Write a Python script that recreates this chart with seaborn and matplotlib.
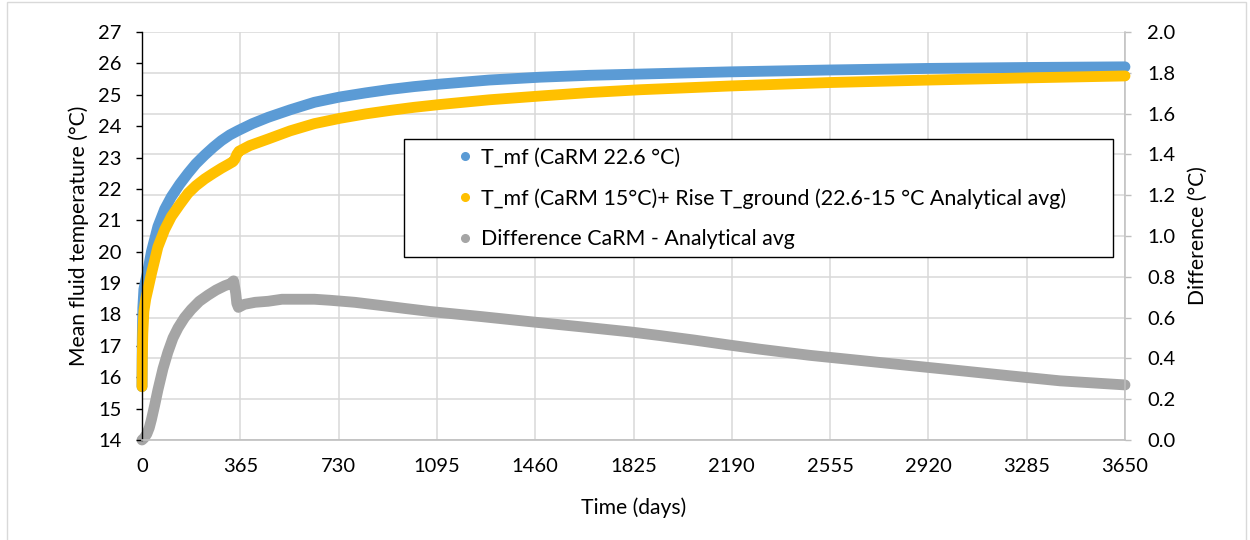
import numpy as np
import pandas as pd
import matplotlib
matplotlib.use("Agg")
import matplotlib.pyplot as plt
import seaborn as sns
from matplotlib.patches import Rectangle
from matplotlib.lines import Line2D

# ---------------- data ----------------
days_blue = [0, 1, 3, 7, 14, 22, 35, 59, 84, 109, 140, 171, 200, 233, 265, 295,
             326, 357, 410, 468, 550, 640, 735, 830, 920, 1010, 1107, 1290,
             1478, 1660, 1849, 2183, 2555, 2926, 3297, 3650]
t_blue = [15.7, 17.2, 18.2, 18.8, 19.1, 19.4, 20.0, 20.8, 21.35, 21.75, 22.15,
          22.5, 22.8, 23.08, 23.33, 23.54, 23.72, 23.86, 24.08, 24.28, 24.52,
          24.76, 24.93, 25.06, 25.17, 25.26, 25.34, 25.47, 25.56, 25.62, 25.66,
          25.73, 25.79, 25.84, 25.87, 25.89]

days_yellow = [0, 1, 3, 7, 14, 22, 35, 59, 84, 109, 140, 171, 200, 233, 265,
               295, 320, 338, 345, 352, 360, 400, 468, 550, 640, 735, 830, 920,
               1010, 1107, 1290, 1478, 1660, 1849, 2183, 2555, 2926, 3297, 3650]
t_yellow = [15.7, 16.6, 17.4, 18.1, 18.5, 18.8, 19.3, 20.15, 20.7, 21.12, 21.5,
            21.86, 22.1, 22.32, 22.5, 22.66, 22.78, 22.87, 22.95, 23.1, 23.2,
            23.38, 23.59, 23.85, 24.08, 24.25, 24.39, 24.5, 24.6, 24.69, 24.84,
            24.96, 25.07, 25.16, 25.28, 25.39, 25.47, 25.54, 25.6]

days_gray = [0, 8, 18, 27, 35, 47, 59, 78, 96, 115, 134, 158, 183, 213, 245,
             275, 307, 330, 340, 348, 352, 358, 380, 420, 468, 520, 574, 640,
             698, 790, 884, 975, 1069, 1260, 1441, 1630, 1812, 1923, 2050, 2183,
             2295, 2480, 2666, 2850, 3037, 3220, 3409, 3650]
diff_gray = [0.0, 0.01, 0.03, 0.06, 0.10, 0.17, 0.245, 0.35, 0.43, 0.50, 0.55,
             0.60, 0.64, 0.68, 0.71, 0.735, 0.756, 0.767, 0.78, 0.72, 0.67,
             0.65, 0.665, 0.675, 0.68, 0.69, 0.69, 0.69, 0.685, 0.675, 0.66,
             0.645, 0.63, 0.605, 0.58, 0.555, 0.53, 0.512, 0.49, 0.465, 0.445,
             0.415, 0.39, 0.365, 0.34, 0.315, 0.29, 0.27]

x_ticks = list(range(0, 3651, 365))
left_ticks = list(range(14, 28))
right_ticks = [round(0.2 * i, 1) for i in range(11)]

labels = ["T_mf (CaRM 22.6 °C)",
          "T_mf (CaRM 15°C)+ Rise T_ground (22.6-15 °C Analytical avg)",
          "Difference CaRM - Analytical avg"]

BLUE, YELLOW, GRAY = "#5B9BD5", "#FFC000", "#A5A5A5"
GRID = "#d9d9d9"
AX_GRAY = "#bfbfbf"

# ---------------- style ----------------
sns.set_theme(style="white")
plt.rcParams["font.family"] = ["Lato", "DejaVu Sans"]
FS_TICK = 14.5
FS_LAB = 15.2
FS_LEG = 15.4

fig = plt.figure(figsize=(12.5, 5.4), dpi=100)
W, H = 1250, 540
ax = fig.add_axes([142 / W, (H - 440) / H, (1125 - 142) / W, (440 - 32) / H])
ax2 = ax.twinx()
ax.set_zorder(2)
ax.patch.set_visible(False)
ax2.set_zorder(1)

LW = 7.8
sns.lineplot(x=days_gray, y=diff_gray, ax=ax2, color=GRAY, lw=LW, estimator=None)
sns.lineplot(x=days_blue, y=t_blue, ax=ax, color=BLUE, lw=LW, estimator=None)
sns.lineplot(x=days_yellow, y=t_yellow, ax=ax, color=YELLOW, lw=LW, estimator=None)
for ln in ax.lines + ax2.lines:
    ln.set_solid_capstyle("round")
    ln.set_solid_joinstyle("round")
    ln.set_clip_on(False)

ax.set_xlim(0, 3650)
ax.set_ylim(14, 27)
ax2.set_ylim(0, 2.0)
ax.set_xticks(x_ticks)
ax.set_xticklabels([str(v) for v in x_ticks])
ax.set_yticks(left_ticks)
ax.set_yticklabels([str(v) for v in left_ticks])
ax2.set_yticks(right_ticks)
ax2.set_yticklabels([f"{v:.1f}" for v in right_ticks])

# grid on the secondary axes (beneath everything)
ax2.xaxis.set_visible(True)
ax2.tick_params(axis="x", bottom=False, top=False, labelbottom=False, labeltop=False)
ax2.grid(True, axis="both", color=GRID, lw=1.1)
ax.grid(False)

for s in ["top", "right"]:
    ax.spines[s].set_visible(False)
ax.spines["left"].set_color("black")
ax.spines["left"].set_linewidth(1.0)
ax.spines["bottom"].set_color(AX_GRAY)
ax.spines["bottom"].set_linewidth(1.2)
for s in ["top", "left", "bottom"]:
    ax2.spines[s].set_visible(False)
ax2.spines["right"].set_color(AX_GRAY)
ax2.spines["right"].set_linewidth(1.1)

ax.tick_params(axis="x", length=0, pad=13, labelsize=FS_TICK, labelcolor="black")
ax.tick_params(axis="y", left=True, length=4.5, width=1, color="black", pad=10,
               labelsize=FS_TICK, labelcolor="black", direction="out")
ax2.tick_params(axis="y", right=True, length=4.5, width=1, color=AX_GRAY, pad=11.5,
                labelsize=FS_TICK, labelcolor="black", direction="out")

ax.set_xlabel("Time (days)", fontsize=FS_LAB, color="black", labelpad=16)
ax.set_ylabel("Mean fluid temperature (°C)", fontsize=FS_LAB, color="black", labelpad=7)
ax2.set_ylabel("Difference (°C)", fontsize=FS_LAB, color="black", labelpad=9)

# legend box and entries
box = Rectangle((404 / W, (H - 257) / H), (1113 - 404) / W, (257 - 139) / H,
                transform=fig.transFigure, facecolor="white", edgecolor="black",
                lw=1.0, zorder=5)
fig.add_artist(box)
handles = [Line2D([], [], ls="none", marker="o", ms=5.5, color=c, mec=c)
           for c in (BLUE, YELLOW, GRAY)]
leg = fig.legend(handles, labels, loc="upper left",
                 bbox_to_anchor=(456 / W, (H - 143) / H), frameon=False,
                 borderaxespad=0, fontsize=FS_LEG, handlelength=0.4,
                 handletextpad=0.55, labelspacing=0.97, borderpad=0.2,
                 labelcolor="black")
leg.set_zorder(6)

# outer chart border
fig.add_artist(Rectangle((7 / W, -0.01), (1246 - 7) / W, (538 / H) + 0.01,
                         transform=fig.transFigure, fill=False,
                         edgecolor=GRID, lw=1.0, zorder=0))

fig.savefig("out.png", dpi=100)
